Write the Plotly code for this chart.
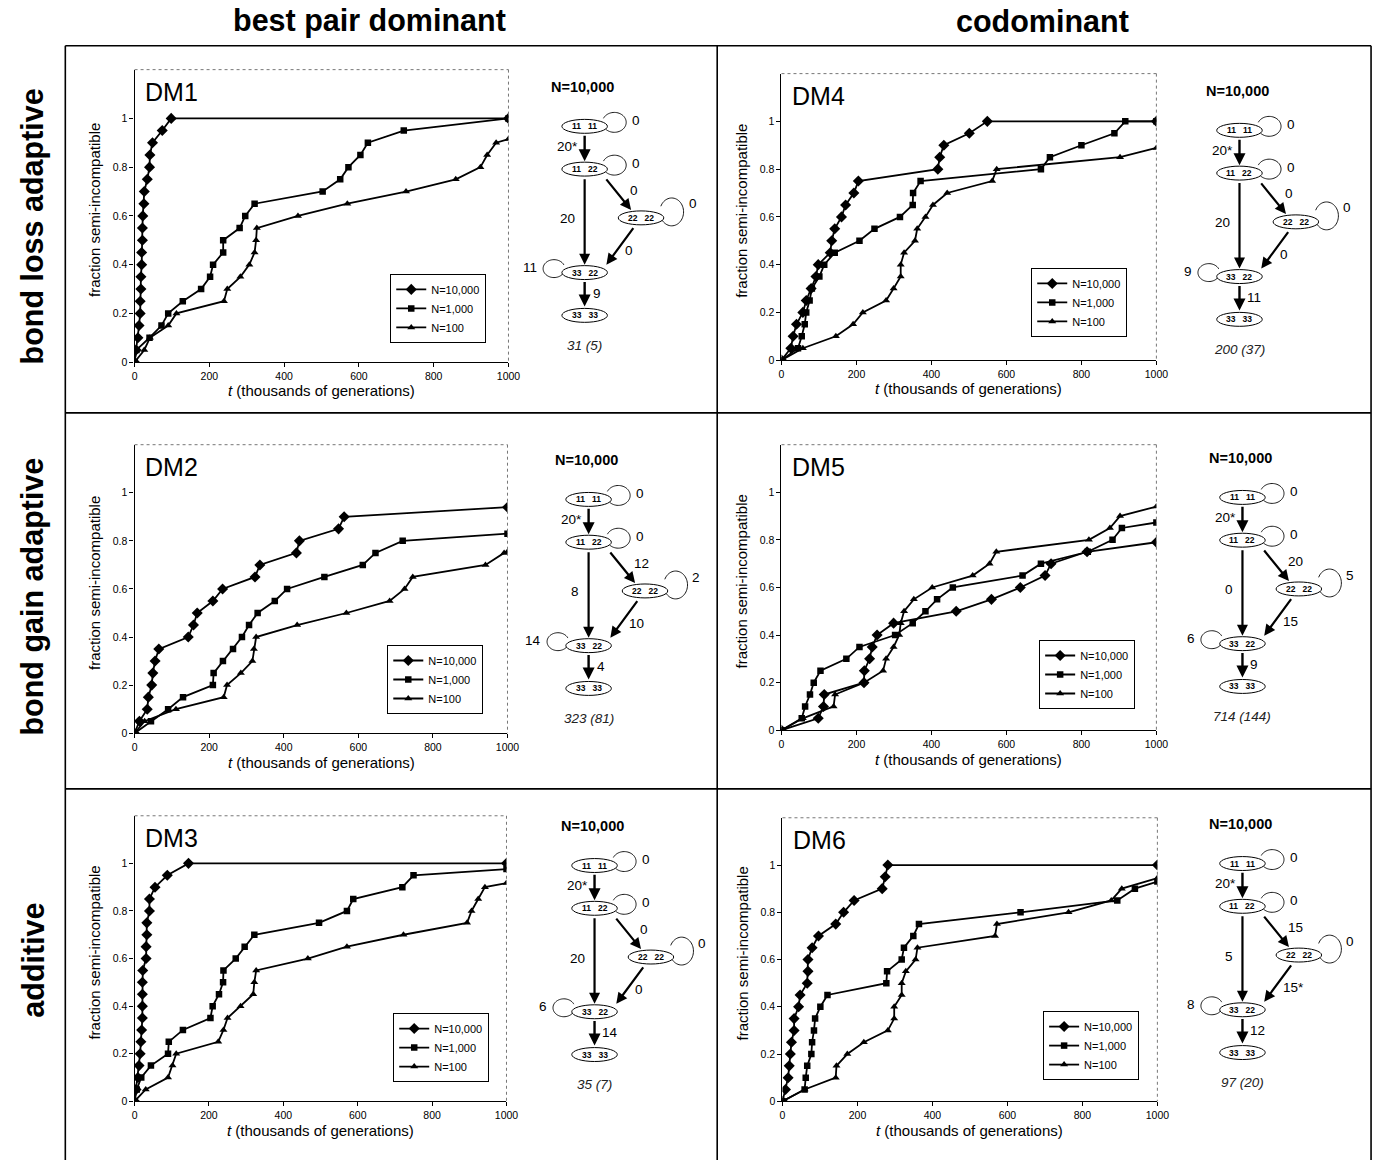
import math
import plotly.graph_objects as go

W, H = 1388, 1166
FONT = "Liberation Sans, Arial, Helvetica, sans-serif"

# ---------------- data ----------------
series_labels = ["N=10,000", "N=1,000", "N=100"]
t_ticks = [0, 200, 400, 600, 800, 1000]
f_ticks = [0, 0.2, 0.4, 0.6, 0.8, 1.0]
f_ticklabels = ["0", "0.2", "0.4", "0.6", "0.8", "1"]
panel_names = ["DM1", "DM2", "DM3", "DM4", "DM5", "DM6"]
col_titles = ["best pair dominant", "codominant"]
row_titles = ["bond loss adaptive", "bond gain adaptive", "additive"]

# DM1
dm1_t_n10000 = [0, 4, 9, 12, 15, 15, 17, 17, 19, 19, 21, 21, 22, 25, 26, 34, 40, 41, 48, 74, 98, 1000]
dm1_f_n10000 = [0, 0.05, 0.1, 0.15, 0.2, 0.25, 0.3, 0.35, 0.4, 0.45, 0.5, 0.55, 0.6, 0.65, 0.7, 0.75, 0.8, 0.85, 0.9, 0.95, 1.0, 1.0]
dm1_t_n1000 = [0, 5, 40, 72, 90, 129, 178, 202, 210, 237, 237, 281, 296, 321, 503, 550, 572, 604, 624, 720, 1000]
dm1_f_n1000 = [0, 0.05, 0.1, 0.15, 0.2, 0.25, 0.3, 0.35, 0.4, 0.45, 0.5, 0.55, 0.6, 0.65, 0.7, 0.75, 0.8, 0.85, 0.9, 0.95, 1.0]
dm1_t_n100 = [0, 26, 41, 90, 112, 239, 248, 283, 307, 321, 325, 327, 437, 569, 726, 859, 925, 943, 967, 1000]
dm1_f_n100 = [0, 0.05, 0.1, 0.15, 0.2, 0.25, 0.3, 0.35, 0.4, 0.45, 0.5, 0.55, 0.6, 0.65, 0.7, 0.75, 0.8, 0.85, 0.9, 0.915]

# DM2
dm2_t_n10000 = [0, 13, 34, 37, 46, 49, 55, 65, 144, 158, 168, 210, 236, 323, 336, 434, 442, 547, 562, 1000]
dm2_f_n10000 = [0, 0.05, 0.1, 0.15, 0.2, 0.25, 0.3, 0.35, 0.4, 0.45, 0.5, 0.55, 0.6, 0.65, 0.7, 0.75, 0.8, 0.85, 0.9, 0.94]
dm2_t_n1000 = [0, 44, 90, 130, 210, 212, 237, 264, 288, 307, 330, 376, 409, 509, 612, 646, 719, 1000]
dm2_f_n1000 = [0, 0.05, 0.1, 0.15, 0.2, 0.25, 0.3, 0.35, 0.4, 0.45, 0.5, 0.55, 0.6, 0.65, 0.7, 0.75, 0.8, 0.83]
dm2_t_n100 = [0, 27, 111, 239, 248, 285, 316, 320, 326, 436, 568, 684, 724, 746, 941, 991, 1000]
dm2_f_n100 = [0, 0.05, 0.1, 0.15, 0.2, 0.25, 0.3, 0.35, 0.4, 0.45, 0.5, 0.55, 0.6, 0.65, 0.7, 0.75, 0.755]

# DM3
dm3_t_n10000 = [0, 4, 9, 12, 15, 17, 19, 21, 21, 21, 21, 22, 31, 31, 33, 33, 40, 40, 55, 88, 145, 1000]
dm3_f_n10000 = [0, 0.05, 0.1, 0.15, 0.2, 0.25, 0.3, 0.35, 0.4, 0.45, 0.5, 0.55, 0.6, 0.65, 0.7, 0.75, 0.8, 0.85, 0.9, 0.95, 1.0, 1.0]
dm3_t_n1000 = [0, 6, 18, 44, 90, 92, 130, 204, 210, 227, 238, 239, 272, 296, 322, 496, 571, 588, 720, 750, 1000]
dm3_f_n1000 = [0, 0.05, 0.1, 0.15, 0.2, 0.25, 0.3, 0.35, 0.4, 0.45, 0.5, 0.55, 0.6, 0.65, 0.7, 0.75, 0.8, 0.85, 0.9, 0.95, 0.976]
dm3_t_n100 = [0, 30, 90, 102, 112, 225, 239, 250, 285, 319, 322, 327, 466, 571, 723, 894, 906, 924, 942, 1000]
dm3_f_n100 = [0, 0.05, 0.1, 0.15, 0.2, 0.25, 0.3, 0.35, 0.4, 0.45, 0.5, 0.55, 0.6, 0.65, 0.7, 0.75, 0.8, 0.85, 0.9, 0.917]

# DM4
dm4_t_n10000 = [0, 25, 31, 40, 57, 66, 79, 92, 98, 130, 134, 142, 160, 171, 193, 205, 417, 422, 433, 501, 549, 1000]
dm4_f_n10000 = [0, 0.05, 0.1, 0.15, 0.2, 0.25, 0.3, 0.35, 0.4, 0.45, 0.5, 0.55, 0.6, 0.65, 0.7, 0.75, 0.8, 0.85, 0.9, 0.95, 1.0, 1.0]
dm4_t_n1000 = [0, 44, 54, 62, 66, 75, 81, 101, 114, 142, 208, 248, 316, 350, 351, 371, 692, 716, 800, 888, 917, 1000]
dm4_f_n1000 = [0, 0.05, 0.1, 0.15, 0.2, 0.25, 0.3, 0.35, 0.4, 0.45, 0.5, 0.55, 0.6, 0.65, 0.7, 0.75, 0.8, 0.85, 0.9, 0.95, 1.0, 1.0]
dm4_t_n100 = [0, 57, 145, 191, 217, 279, 299, 318, 318, 327, 356, 362, 384, 404, 442, 562, 574, 903, 1000]
dm4_f_n100 = [0, 0.05, 0.1, 0.15, 0.2, 0.25, 0.3, 0.35, 0.4, 0.45, 0.5, 0.55, 0.6, 0.65, 0.7, 0.75, 0.8, 0.85, 0.889]

# DM5
dm5_t_n10000 = [0, 98, 112, 114, 220, 221, 235, 242, 255, 299, 466, 560, 637, 703, 719, 815, 1000]
dm5_f_n10000 = [0, 0.05, 0.1, 0.15, 0.2, 0.25, 0.3, 0.35, 0.4, 0.45, 0.5, 0.55, 0.6, 0.65, 0.7, 0.75, 0.79]
dm5_t_n1000 = [0, 54, 63, 76, 86, 104, 173, 208, 303, 350, 384, 415, 457, 643, 692, 817, 883, 908, 1000]
dm5_f_n1000 = [0, 0.05, 0.1, 0.15, 0.2, 0.25, 0.3, 0.35, 0.4, 0.45, 0.5, 0.55, 0.6, 0.65, 0.7, 0.75, 0.8, 0.85, 0.873]
dm5_t_n100 = [0, 57, 139, 143, 220, 271, 279, 299, 314, 318, 327, 353, 402, 510, 555, 573, 820, 876, 903, 1000]
dm5_f_n100 = [0, 0.05, 0.1, 0.15, 0.2, 0.25, 0.3, 0.35, 0.4, 0.45, 0.5, 0.55, 0.6, 0.65, 0.7, 0.75, 0.8, 0.85, 0.9, 0.94]

# DM6
dm6_t_n10000 = [0, 8, 15, 18, 21, 24, 31, 31, 43, 47, 66, 68, 68, 79, 96, 142, 163, 191, 266, 274, 281, 1000]
dm6_f_n10000 = [0, 0.05, 0.1, 0.15, 0.2, 0.25, 0.3, 0.35, 0.4, 0.45, 0.5, 0.55, 0.6, 0.65, 0.7, 0.75, 0.8, 0.85, 0.9, 0.95, 1.0, 1.0]
dm6_t_n1000 = [0, 59, 62, 66, 77, 79, 84, 87, 101, 120, 277, 279, 318, 324, 349, 364, 635, 893, 940, 1000]
dm6_f_n1000 = [0, 0.05, 0.1, 0.15, 0.2, 0.25, 0.3, 0.35, 0.4, 0.45, 0.5, 0.55, 0.6, 0.65, 0.7, 0.75, 0.8, 0.85, 0.9, 0.93]
dm6_t_n100 = [0, 59, 142, 144, 173, 217, 281, 298, 298, 318, 318, 329, 355, 360, 567, 572, 763, 877, 905, 1000]
dm6_f_n100 = [0, 0.05, 0.1, 0.15, 0.2, 0.25, 0.3, 0.35, 0.4, 0.45, 0.5, 0.55, 0.6, 0.65, 0.7, 0.75, 0.8, 0.85, 0.9, 0.945]

# state diagrams: labels for loop1, e12, loop2, e23, loop3, e24, e34, loop4, e45
node_labels = ["11   11", "11   22", "22   22", "33   22", "33   33"]
dm1_edges = ["0", "20*", "0", "0", "0", "20", "0", "11", "9"]
dm2_edges = ["0", "20*", "0", "12", "2", "8", "10", "14", "4"]
dm3_edges = ["0", "20*", "0", "0", "0", "20", "0", "6", "14"]
dm4_edges = ["0", "20*", "0", "0", "0", "20", "0", "9", "11"]
dm5_edges = ["0", "20*", "0", "20", "5", "0", "15", "6", "9"]
dm6_edges = ["0", "20*", "0", "15", "0", "5", "15*", "8", "12"]
dm_totals = ["31 (5)", "323 (81)", "35 (7)", "200 (37)", "714 (144)", "97 (20)"]
diagram_title = "N=10,000"

panels = [
    [(dm1_t_n10000, dm1_f_n10000), (dm1_t_n1000, dm1_f_n1000), (dm1_t_n100, dm1_f_n100)],
    [(dm2_t_n10000, dm2_f_n10000), (dm2_t_n1000, dm2_f_n1000), (dm2_t_n100, dm2_f_n100)],
    [(dm3_t_n10000, dm3_f_n10000), (dm3_t_n1000, dm3_f_n1000), (dm3_t_n100, dm3_f_n100)],
    [(dm4_t_n10000, dm4_f_n10000), (dm4_t_n1000, dm4_f_n1000), (dm4_t_n100, dm4_f_n100)],
    [(dm5_t_n10000, dm5_f_n10000), (dm5_t_n1000, dm5_f_n1000), (dm5_t_n100, dm5_f_n100)],
    [(dm6_t_n10000, dm6_f_n10000), (dm6_t_n1000, dm6_f_n1000), (dm6_t_n100, dm6_f_n100)],
]
edges_all = [dm1_edges, dm2_edges, dm3_edges, dm4_edges, dm5_edges, dm6_edges]

# ---------------- layout geometry (pixels) ----------------
boxes = [(133, 511, 70, 364), (133, 510, 447, 737), (133, 509, 820, 1107),
         (787, 1166, 74, 362), (787, 1166, 447, 734), (788, 1167, 822, 1107)]
legend_centers = [(440, 310), (437, 683), (443, 1053), (1088, 304), (1096, 678), (1100, 1051)]
diag_anchor = [(588, 127), (592, 502), (598, 870), (1250, 131), (1253, 500), (1253, 868)]

symbols = ["diamond", "square", "triangle-up"]
msizes = [8.5, 6.5, 7]


def P(x):
    return x / W


def Q(y):
    return 1 - y / H


fig = go.Figure()
layout = dict(
    width=W, height=H, margin=dict(l=0, r=0, t=0, b=0),
    paper_bgcolor="white", plot_bgcolor="white",
    font=dict(family=FONT, color="black"), showlegend=True,
)
shapes = []
annotations = []

for i, series in enumerate(panels):
    k = i + 1
    sfx = "" if k == 1 else str(k)
    lg = "legend" if k == 1 else f"legend{k}"
    for (t, f), lab, sym, ms in zip(series, series_labels, symbols, msizes):
        fig.add_trace(go.Scatter(
            x=t, y=f, mode="lines+markers", name=lab,
            xaxis="x" + sfx, yaxis="y" + sfx, legend=lg,
            line=dict(color="black", width=1.8),
            marker=dict(symbol=sym, size=ms, color="black"),
            hoverinfo="x+y+name",
        ))
    x0, x1, y0, y1 = boxes[i]
    layout["xaxis" + sfx] = dict(
        domain=[P(x0), P(x1)], range=[0, 1000], anchor="y" + sfx,
        tickvals=t_ticks, ticks="outside", ticklen=4, tickwidth=1, tickcolor="black",
        showline=True, linecolor="black", linewidth=1.3, showgrid=False, zeroline=False,
        tickfont=dict(size=10.5, family=FONT, color="black"), fixedrange=True,
    )
    layout["yaxis" + sfx] = dict(
        domain=[Q(y1), Q(y0)], range=[0, 1.2], anchor="x" + sfx,
        tickvals=f_ticks, ticktext=f_ticklabels, ticks="outside", ticklen=4, tickwidth=1,
        tickcolor="black", showline=True, linecolor="black", linewidth=1.3,
        showgrid=False, zeroline=False,
        tickfont=dict(size=10.5, family=FONT, color="black"), fixedrange=True,
    )
    lx, ly = legend_centers[i]
    layout[lg] = dict(
        x=P(lx), y=Q(ly), xanchor="center", yanchor="middle",
        bordercolor="black", borderwidth=1, bgcolor="white",
        font=dict(size=11, family=FONT, color="black"), tracegroupgap=0,
        itemwidth=30,
    )
    # dotted top/right frame of plot area
    shapes.append(dict(type="line", xref="paper", yref="paper", x0=P(x0), x1=P(x1), y0=Q(y0), y1=Q(y0),
                       line=dict(color="#777", width=1, dash="dot")))
    shapes.append(dict(type="line", xref="paper", yref="paper", x0=P(x1), x1=P(x1), y0=Q(y0), y1=Q(y1),
                       line=dict(color="#777", width=1, dash="dot")))
    # panel name
    annotations.append(dict(text=panel_names[i], x=P(x0 + 9), y=Q(y0 + 22), xref="paper", yref="paper",
                            xanchor="left", yanchor="middle", showarrow=False,
                            font=dict(size=25, family=FONT, color="black")))
    # axis titles
    annotations.append(dict(text="fraction semi-incompatible", x=P(x0 - 40), y=Q((y0 + y1) / 2 - 6),
                            xref="paper", yref="paper", textangle=-90, showarrow=False,
                            xanchor="center", yanchor="middle",
                            font=dict(size=15, family=FONT, color="black")))
    annotations.append(dict(text="<i>t</i> (thousands of generations)", x=P((x0 + x1) / 2), y=Q(y1 + 29),
                            xref="paper", yref="paper", showarrow=False,
                            xanchor="center", yanchor="middle",
                            font=dict(size=15, family=FONT, color="black")))

# ---------------- panel frame ----------------
frame_lines = [
    (63, 46, 1383, 46), (63, 415, 1383, 415), (63, 793, 1383, 793),
    (63, 46, 63, 1166), (722, 46, 722, 1166), (1383, 46, 1383, 1166),
]
for (a, b, c, d) in frame_lines:
    shapes.append(dict(type="line", xref="paper", yref="paper", x0=P(a), y0=Q(b), x1=P(c), y1=Q(d),
                       line=dict(color="black", width=1.6)))

for j, txt in enumerate(col_titles):
    annotations.append(dict(text=f"<b>{txt}</b>", x=P([370, 1051][j]), y=Q(21), xref="paper", yref="paper",
                            showarrow=False, xanchor="center", yanchor="middle",
                            font=dict(size=30.5, family=FONT, color="black")))
for j, txt in enumerate(row_titles):
    annotations.append(dict(text=f"<b>{txt}</b>", x=P(30), y=Q([228, 600, 965][j]), xref="paper", yref="paper",
                            showarrow=False, xanchor="center", yanchor="middle", textangle=-90,
                            font=dict(size=30.5, family=FONT, color="black")))

# ---------------- state diagrams ----------------
node_off = [(0, 0), (0, 43), (57, 92), (0, 147), (0, 190)]
EW, EH = 23, 7
# straight arrows: (tail dx, dy, head dx, dy, width)
arrows = [(0, 8, 0, 35, 2.4), (21, 52, 47, 84, 2.2), (0, 52, 0, 139, 2.2),
          (50, 101, 22, 139, 2.2), (0, 155, 0, 181, 2.4)]
# loops: node index, side(+1 right / -1 left), center dx, dy (from node), rx, ry
loops = [(0, 1, 30, -4, 12, 10), (1, 1, 30, -4, 12, 10), (2, 1, 31, -6, 12, 14), (3, -1, -31, -4, 11, 9)]
label_off = [(46, -6, "left"), (-5, 20, "right"), (46, 37, "left"), (44, 64, "left"),
             (103, 78, "left"), (-8, 93, "right"), (39, 125, "left"), (-46, 142, "right"),
             (6, 168, "left")]


def arrow(x0, y0, x1, y1, w, head=2, size=1.0):
    annotations.append(dict(x=P(x1), y=Q(y1), xref="paper", yref="paper", ax=x0 - x1, ay=y0 - y1,
                            axref="pixel", ayref="pixel", showarrow=True, arrowhead=head,
                            arrowsize=size, arrowwidth=w, arrowcolor="black", text="", standoff=0))


for i in range(6):
    cx, cy = diag_anchor[i]
    annotations.append(dict(text=f"<b>{diagram_title}</b>", x=P(cx - 2), y=Q(cy - 40), xref="paper",
                            yref="paper", showarrow=False, xanchor="center", yanchor="middle",
                            font=dict(size=14.5, family=FONT, color="black")))
    annotations.append(dict(text=f"<i>{dm_totals[i]}</i>", x=P(cx), y=Q(cy + 220), xref="paper",
                            yref="paper", showarrow=False, xanchor="center", yanchor="middle",
                            font=dict(size=13.5, family=FONT, color="#222")))
    for (tx, ty, hx, hy, w) in arrows:
        arrow(cx + tx, cy + ty, cx + hx, cy + hy, w)
    # loops
    for (ni, side, dcx, dcy, rx, ry) in loops:
        nx, ny = node_off[ni]
        ccx, ccy = cx + nx + dcx, cy + ny + dcy
        pts = []
        a = -150
        while a <= 158:
            r = math.radians(a)
            pts.append((ccx + side * rx * math.cos(r), ccy - ry * math.sin(r)))
            a += 6
        path = "M " + " L ".join(f"{P(x):.6f},{Q(y):.6f}" for x, y in pts)
        shapes.append(dict(type="path", xref="paper", yref="paper", path=path,
                           line=dict(color="black", width=0.9)))
        hx, hy = pts[-1]
        tx, ty = pts[-3]
        arrow(tx, ty, hx, hy, 0.9, head=2, size=1.1)
    # ellipses
    for n, (nx, ny) in enumerate(node_off):
        ex, ey = cx + nx, cy + ny
        shapes.append(dict(type="circle", xref="paper", yref="paper",
                           x0=P(ex - EW), x1=P(ex + EW), y0=Q(ey + EH), y1=Q(ey - EH),
                           line=dict(color="black", width=1), fillcolor="white"))
        annotations.append(dict(text=f"<b>{node_labels[n].replace(' ', '&nbsp;')}</b>", x=P(ex), y=Q(ey),
                                xref="paper", yref="paper", showarrow=False,
                                xanchor="center", yanchor="middle",
                                font=dict(size=8.5, family=FONT, color="black")))
    # edge labels
    for lab, (dx, dy, anc) in zip(edges_all[i], label_off):
        annotations.append(dict(text=lab, x=P(cx + dx), y=Q(cy + dy), xref="paper", yref="paper",
                                showarrow=False, xanchor=anc, yanchor="middle",
                                font=dict(size=13.5, family=FONT, color="black")))

layout["shapes"] = shapes
layout["annotations"] = annotations
fig.update_layout(**layout)
fig.write_html("out.html")
